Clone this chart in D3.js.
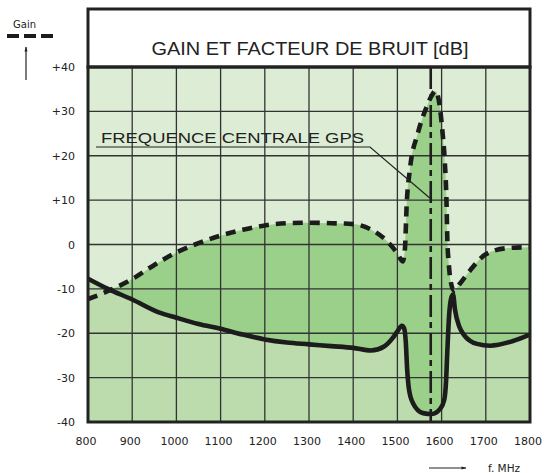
<!DOCTYPE html>
<html>
<head>
<meta charset="utf-8">
<script src="https://cdn.jsdelivr.net/npm/d3@7"></script>
<style>
  body { margin: 0; background: #fff; }
  svg { display: block; }
</style>
</head>
<body>
<div id="main"></div>
<script>
const W = 544, H = 473;

// frequency axis (MHz) and level axis (dB)
const xTicks = [800, 900, 1000, 1100, 1200, 1300, 1400, 1500, 1600, 1700, 1800];
const yTicks = [40, 30, 20, 10, 0, -10, -20, -30, -40];
const yTickLabels = ["+40", "+30", "+20", "+10", "0", "-10", "-20", "-30", "-40"];

// gain curve (dashed)
const gainFreq = [800, 850, 900, 950, 1000, 1050, 1100, 1150, 1200, 1250, 1300, 1350, 1400, 1440, 1475, 1500, 1512,
                  1517, 1521, 1528, 1546, 1566, 1578, 1586, 1596, 1601, 1607, 1611, 1613, 1616, 1620, 1628, 1640,
                  1664, 1700, 1750, 1800];
const gainDb = [-12.3, -10.3, -7.8, -4.6, -1.8, 0.3, 2.0, 3.3, 4.3, 4.8, 4.9, 4.8, 4.6, 3.4, 0.9, -2.0, -3.8,
                -1.0, 9.0, 16.7, 25.0, 31.0, 33.6, 34.6, 31.0, 26.4, 19.0, 10.0, 1.0, -4.0, -8.0, -10.4, -9.0,
                -5.9, -2.2, -0.8, -0.6];

// noise figure curve (solid)
const noiseFreq = [800, 845, 900, 960, 1000, 1050, 1100, 1150, 1200, 1250, 1300, 1350, 1400, 1440, 1470, 1490, 1500,
                   1510, 1515, 1519, 1522, 1526, 1535, 1558, 1578, 1597, 1606, 1610, 1613, 1617, 1622, 1626, 1630,
                   1640, 1650, 1680, 1710, 1760, 1800];
const noiseDb = [-7.7, -10.0, -12.4, -15.3, -16.5, -17.9, -19.0, -20.3, -21.4, -22.1, -22.5, -22.9, -23.3, -23.9, -23.0, -21.0, -19.6,
                 -18.3, -18.8, -22.0, -28.0, -32.5, -35.7, -38.0, -38.2, -37.0, -35.0, -31.0, -24.0, -16.0, -12.0, -11.3, -14.5,
                 -18.5, -20.3, -22.4, -22.8, -21.8, -20.3];

const gpsFreq = 1575.42;

const gain = gainFreq.map((f, i) => ({f: f, v: gainDb[i]}));
const noise = noiseFreq.map((f, i) => ({f: f, v: noiseDb[i]}));

const plot = {left: 88, right: 530, top: 67, bottom: 422, titleTop: 9};

const x = d3.scaleLinear().domain([800, 1800]).range([plot.left, plot.right]);
const y = d3.scaleLinear().domain([-40, 40]).range([plot.bottom, plot.top]);

const svg = d3.select("#main").append("svg")
    .attr("width", W).attr("height", H);

svg.append("rect").attr("width", W).attr("height", H).attr("fill", "#fff");

svg.append("clipPath").attr("id", "plotClip")
   .append("rect")
   .attr("x", plot.left).attr("y", plot.top)
   .attr("width", plot.right - plot.left).attr("height", plot.bottom - plot.top);

const g = svg.append("g").attr("clip-path", "url(#plotClip)");

// background fills
g.append("rect")
 .attr("x", plot.left).attr("y", plot.top)
 .attr("width", plot.right - plot.left).attr("height", plot.bottom - plot.top)
 .attr("fill", "#ddedd5");

const area = d3.area()
    .x(d => x(d.f))
    .y0(y(-40))
    .y1(d => y(d.v))
    .curve(d3.curveMonotoneX);

g.append("path").datum(gain).attr("d", area).attr("fill", "#9bd08a");
g.append("path").datum(noise).attr("d", area).attr("fill", "#bddcae");

// grid
const grid = g.append("g").attr("stroke", "#333").attr("stroke-width", 1.3);
grid.selectAll("line.v")
    .data(xTicks.slice(1, -1))
    .enter().append("line")
    .attr("x1", d => x(d)).attr("x2", d => x(d))
    .attr("y1", plot.top).attr("y2", plot.bottom);
grid.selectAll("line.h")
    .data(yTicks.slice(1, -1))
    .enter().append("line")
    .attr("x1", plot.left).attr("x2", plot.right)
    .attr("y1", d => y(d)).attr("y2", d => y(d));

// GPS centre line
g.append("line")
 .attr("x1", x(gpsFreq)).attr("x2", x(gpsFreq))
 .attr("y1", plot.top).attr("y2", plot.bottom)
 .attr("stroke", "#1e1e1e").attr("stroke-width", 2.6)
 .attr("stroke-dasharray", "22,5,6,5");

const line = d3.line()
    .x(d => x(d.f))
    .y(d => y(d.v))
    .curve(d3.curveMonotoneX);

g.append("path").datum(noise).attr("d", line)
 .attr("fill", "none").attr("stroke", "#1c1c1c").attr("stroke-width", 4.6)
 .attr("stroke-linejoin", "round");

g.append("path").datum(gain).attr("d", line)
 .attr("fill", "none").attr("stroke", "#1c1c1c").attr("stroke-width", 4.6)
 .attr("stroke-dasharray", "10,7");

// frame and title box
svg.append("rect")
   .attr("x", plot.left).attr("y", plot.titleTop)
   .attr("width", plot.right - plot.left).attr("height", plot.top - plot.titleTop)
   .attr("fill", "#fff").attr("stroke", "#222").attr("stroke-width", 3);
svg.append("rect")
   .attr("x", plot.left).attr("y", plot.top)
   .attr("width", plot.right - plot.left).attr("height", plot.bottom - plot.top)
   .attr("fill", "none").attr("stroke", "#222").attr("stroke-width", 3);

svg.append("text")
   .attr("x", (plot.left + plot.right) / 2 + 1).attr("y", 55)
   .attr("text-anchor", "middle")
   .attr("font-family", "Liberation Sans, Arial, sans-serif")
   .attr("font-size", 17.5).attr("fill", "#222")
   .attr("textLength", 317).attr("lengthAdjust", "spacingAndGlyphs")
   .text("GAIN ET FACTEUR DE BRUIT [dB]");

// annotation
svg.append("text")
   .attr("x", 101).attr("y", 143)
   .attr("font-family", "Liberation Sans, Arial, sans-serif")
   .attr("font-size", 15).attr("fill", "#222")
   .attr("textLength", 263).attr("lengthAdjust", "spacingAndGlyphs")
   .text("FREQUENCE CENTRALE GPS");
svg.append("polyline")
   .attr("points", `96,147 370,147 ${x(gpsFreq) - 1},198`)
   .attr("fill", "none").attr("stroke", "#222").attr("stroke-width", 1.2);

// tick labels
svg.append("g").selectAll("text")
   .data(yTicks)
   .enter().append("text")
   .attr("x", 75).attr("y", d => y(d) + 4)
   .attr("text-anchor", "end")
   .attr("font-family", "DejaVu Sans, Verdana, sans-serif")
   .attr("font-size", 11).attr("fill", "#222")
   .text((d, i) => yTickLabels[i]);

svg.append("g").selectAll("text")
   .data(xTicks)
   .enter().append("text")
   .attr("x", d => x(d) - 2).attr("y", 445)
   .attr("text-anchor", "middle")
   .attr("font-family", "DejaVu Sans, Verdana, sans-serif")
   .attr("font-size", 11).attr("fill", "#222")
   .text(d => d);

// legend: gain (dashed) with arrow
svg.append("text")
   .attr("x", 13).attr("y", 28)
   .attr("font-family", "DejaVu Sans, Verdana, sans-serif")
   .attr("font-size", 10).attr("fill", "#222")
   .text("Gain");
svg.append("line")
   .attr("x1", 7).attr("x2", 53).attr("y1", 36).attr("y2", 36)
   .attr("stroke", "#1c1c1c").attr("stroke-width", 4)
   .attr("stroke-dasharray", "12,5");

const defs = svg.append("defs");
defs.append("marker").attr("id", "arrow")
    .attr("viewBox", "0 0 10 10").attr("refX", 9).attr("refY", 5)
    .attr("markerWidth", 10).attr("markerHeight", 5)
    .attr("markerUnits", "userSpaceOnUse")
    .attr("orient", "auto")
    .append("path").attr("d", "M0,2 L10,5 L0,8 Z").attr("fill", "#222");

svg.append("line")
   .attr("x1", 26).attr("y1", 80).attr("x2", 26).attr("y2", 47)
   .attr("stroke", "#222").attr("stroke-width", 1.2)
   .attr("marker-end", "url(#arrow)");

svg.append("line")
   .attr("x1", 429).attr("y1", 468).attr("x2", 466).attr("y2", 468)
   .attr("stroke", "#222").attr("stroke-width", 1.2)
   .attr("marker-end", "url(#arrow)");
svg.append("text")
   .attr("x", 488).attr("y", 472)
   .attr("font-family", "DejaVu Sans, Verdana, sans-serif")
   .attr("font-size", 10.5).attr("fill", "#222")
   .text("f. MHz");
</script>
</body>
</html>
